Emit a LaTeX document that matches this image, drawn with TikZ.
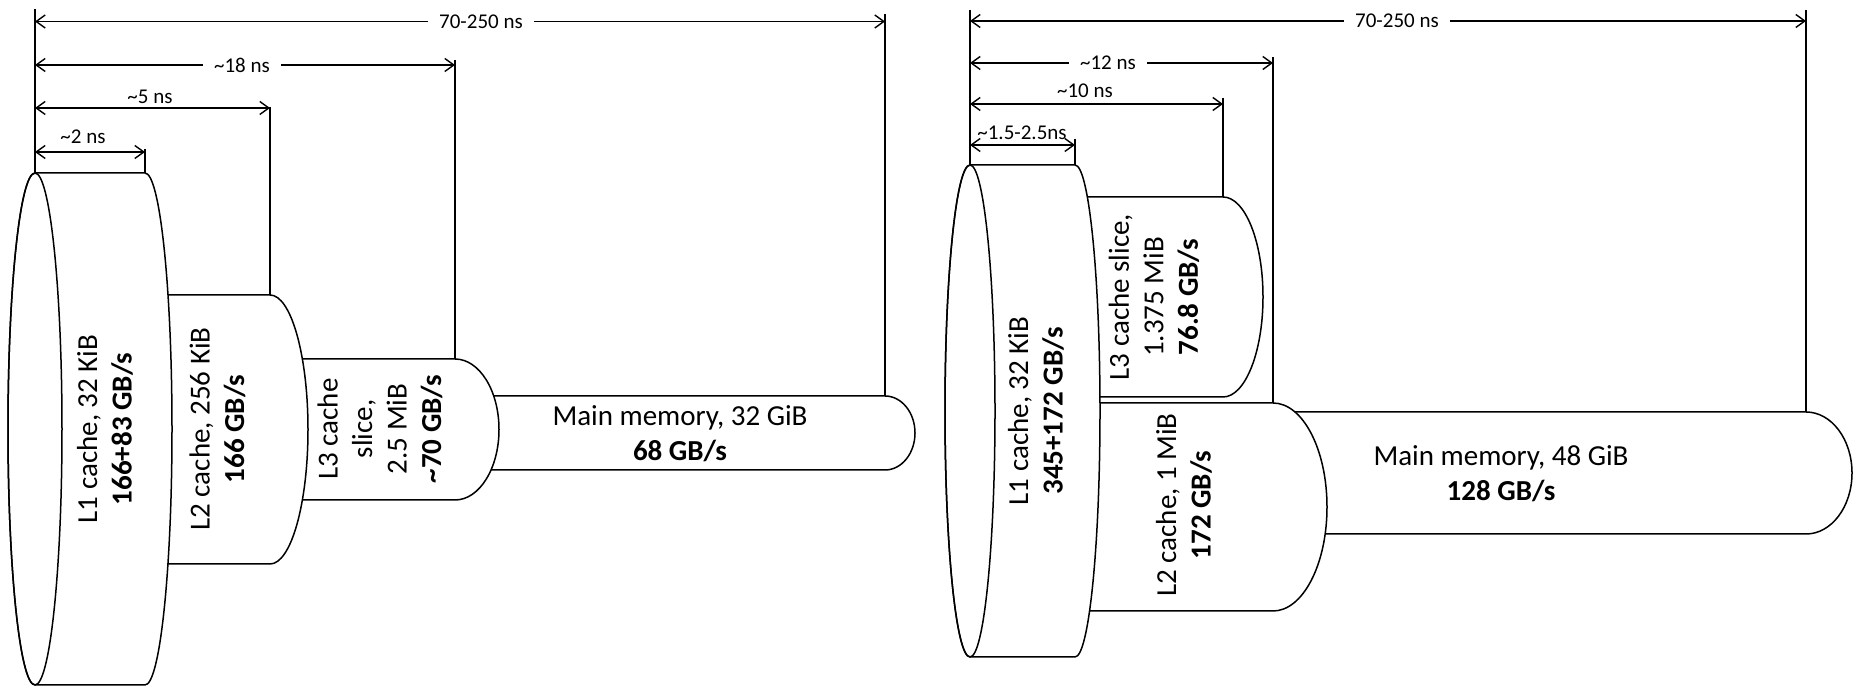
\documentclass[tikz,border=0pt]{standalone}
\usepackage{fontspec}
\setmainfont{Carlito}
\usetikzlibrary{arrows.meta}
\begin{document}
\begin{tikzpicture}[x=1pt,y=1pt,line join=round,
  cyl/.style={draw,fill=white,line width=1.5pt},
  ext/.style={line width=1.4pt},
  dim/.style={{Straight Barb[length=9pt,width=13pt]}-{Straight Barb[length=9pt,width=13pt]},line width=1.4pt},
  dimlab/.style={font=\fontsize{21}{25}\selectfont,fill=white,inner xsep=11pt,inner ysep=2pt},
  toplab/.style={font=\fontsize{21}{25}\selectfont,anchor=base,inner sep=0pt},
  captxt/.style={font=\fontsize{29}{34.5}\selectfont,align=center,inner sep=0pt}]
\useasboundingbox (0,0) rectangle (1855,687);

% ================= LEFT DIAGRAM =================
% main memory
\coordinate (mmA) at (885,291);
\path[cyl] (440,291) -- (mmA) arc[start angle=90,end angle=-90,x radius=30,y radius=37] -- (440,217) -- cycle;
% L3
\coordinate (l3A) at (455,328);
\path[cyl] (260,328) -- (l3A) arc[start angle=90,end angle=-90,x radius=44,y radius=70.5] -- (260,187) -- cycle;
% L2
\coordinate (l2A) at (270,392);
\path[cyl] (140,392) -- (l2A) arc[start angle=90,end angle=-90,x radius=38,y radius=134.5] -- (140,123) -- cycle;
% L1
\coordinate (l1L) at (35,514);
\coordinate (l1A) at (145,514);
\path[cyl] (l1L) -- (l1A) arc[start angle=90,end angle=-90,x radius=27,y radius=256] -- (35,2) arc[start angle=270,end angle=90,x radius=27,y radius=256] -- cycle;
\draw[line width=1.5pt] (35,258) ellipse[x radius=27,y radius=256];

% captions
\node[captxt,rotate=90] (c1) at (105,258) {L1 cache, 32 KiB\\\textbf{166+83 GB/s}};
\node[captxt,rotate=90] (c2) at (217.5,258) {L2 cache, 256 KiB\\\textbf{166 GB/s}};
\node[captxt,rotate=90] (c3) at (380,258) {L3 cache\\slice,\\2.5 MiB\\\textbf{\textasciitilde 70 GB/s}};
\node[captxt] (c4) at (680,253.5) {Main memory, 32 GiB\\\textbf{68 GB/s}};

% dimension lines
\coordinate (t1) at (35,678);
\draw[ext] (t1) -- (l1L);
\coordinate (d1a) at (35,665.5); \coordinate (d1b) at (885,665.5);
\draw[dim] (d1a) -- (d1b);
\node[dimlab] (n1) at (481,665.5) {70-250 ns};
\coordinate (e1) at (885,673);
\draw[ext] (e1) -- (mmA);

\coordinate (d2a) at (35,622); \coordinate (d2b) at (455,622);
\draw[dim] (d2a) -- (d2b);
\node[dimlab] (n2) at (242,622) {\textasciitilde 18 ns};
\coordinate (e2) at (455,627);
\draw[ext] (e2) -- (l3A);

\coordinate (d3a) at (35,579); \coordinate (d3b) at (270,579);
\draw[dim] (d3a) -- (d3b);
\node[toplab] (n3) at (150,583) {\textasciitilde 5 ns};
\coordinate (e3) at (270,580);
\draw[ext] (e3) -- (l2A);

\coordinate (d4a) at (35,535); \coordinate (d4b) at (145,535);
\draw[dim] (d4a) -- (d4b);
\node[toplab] (n4) at (83,543) {\textasciitilde 2 ns};
\coordinate (e4) at (145,538);
\draw[ext] (e4) -- (l1A);

% ================= RIGHT DIAGRAM =================
% main memory
\coordinate (rmA) at (1806,275);
\path[cyl] (1200,275) -- (rmA) arc[start angle=90,end angle=-90,x radius=46,y radius=61] -- (1200,153) -- cycle;
% L2
\coordinate (r2A) at (1273,284);
\path[cyl] (1060,284) -- (r2A) arc[start angle=90,end angle=-90,x radius=54,y radius=104] -- (1060,76) -- cycle;
% L3
\coordinate (r3A) at (1223,490);
\path[cyl] (1060,490) -- (r3A) arc[start angle=90,end angle=-90,x radius=40,y radius=100] -- (1060,290) -- cycle;
% L1
\coordinate (r1L) at (970,522);
\coordinate (r1A) at (1075,522);
\path[cyl] (r1L) -- (r1A) arc[start angle=90,end angle=-90,x radius=25,y radius=246] -- (970,30) arc[start angle=270,end angle=90,x radius=25,y radius=246] -- cycle;
\draw[line width=1.5pt] (970,276) ellipse[x radius=25,y radius=246];

% captions
\node[captxt,rotate=90] (r1) at (1036,276) {L1 cache, 32 KiB\\\textbf{345+172 GB/s}};
\node[captxt,rotate=90] (r3) at (1154,390) {L3 cache slice,\\1.375 MiB\\\textbf{76.8 GB/s}};
\node[captxt,rotate=90] (r2) at (1184,182) {L2 cache, 1 MiB\\\textbf{172 GB/s}};
\node[captxt] (r4) at (1501,213.5) {Main memory, 48 GiB\\\textbf{128 GB/s}};

% dimension lines
\coordinate (u1) at (970,677);
\draw[ext] (u1) -- (r1L);
\coordinate (f1a) at (970,666); \coordinate (f1b) at (1806,666);
\draw[dim] (f1a) -- (f1b);
\node[dimlab] (m1) at (1397,666) {70-250 ns};
\coordinate (g1) at (1806,677);
\draw[ext] (g1) -- (rmA);

\coordinate (f2a) at (970,624); \coordinate (f2b) at (1273,624);
\draw[dim] (f2a) -- (f2b);
\node[dimlab] (m2) at (1108,624) {\textasciitilde 12 ns};
\coordinate (g2) at (1273,630);
\draw[ext] (g2) -- (r2A);

\coordinate (f3a) at (970,583); \coordinate (f3b) at (1223,583);
\draw[dim] (f3a) -- (f3b);
\node[toplab] (m3) at (1085,589) {\textasciitilde 10 ns};
\coordinate (g3) at (1223,589);
\draw[ext] (g3) -- (r3A);

\coordinate (f4a) at (970,542); \coordinate (f4b) at (1075,542);
\draw[dim] (f4a) -- (f4b);
\node[toplab] (m4) at (1022,547) {\textasciitilde 1.5-2.5ns};
\coordinate (g4) at (1075,548);
\draw[ext] (g4) -- (r1A);
\end{tikzpicture}
\end{document}
